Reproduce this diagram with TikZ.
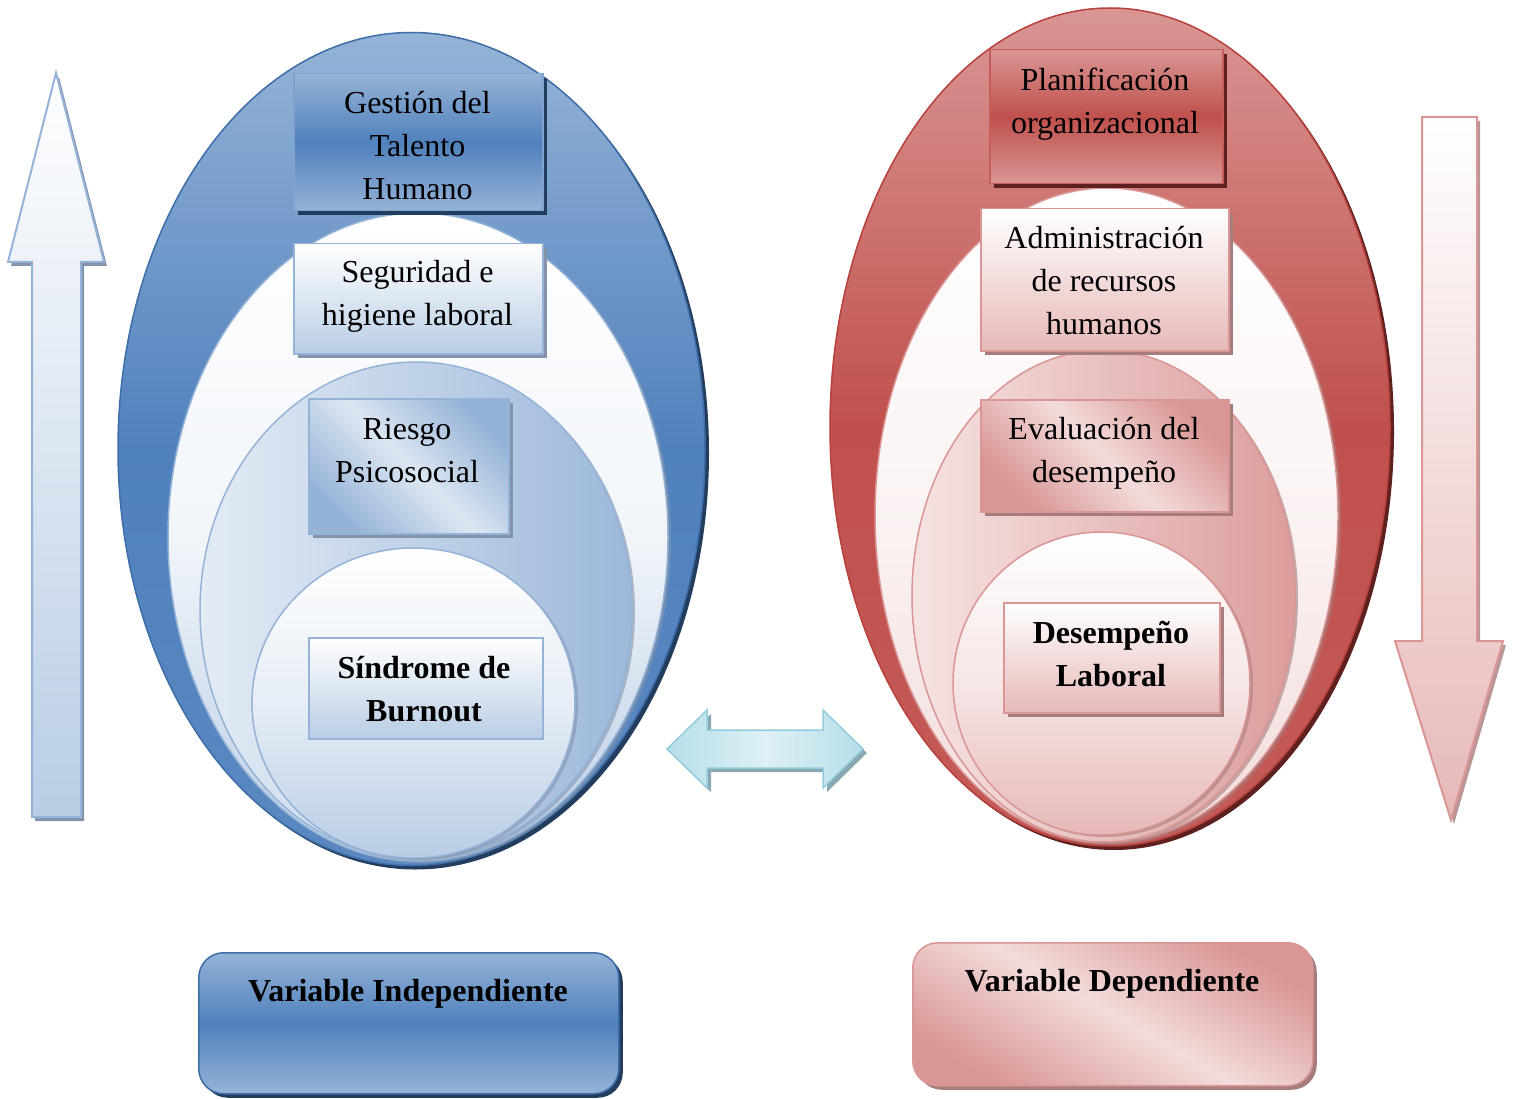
\documentclass[tikz,border=0pt]{standalone}
\usepackage{fontspec}
\setmainfont{Liberation Serif}
\usetikzlibrary{shapes.geometric,shadows}
\definecolor{blueA}{HTML}{4F81BD}
\definecolor{blueB}{HTML}{95B3D7}
\definecolor{blueC}{HTML}{B9CDE5}
\definecolor{blueD}{HTML}{DCE6F2}
\definecolor{blueEdge}{HTML}{3E6DA8}
\definecolor{navy}{HTML}{233D5E}
\definecolor{blueGray}{HTML}{8393AB}
\definecolor{redA}{HTML}{C0504D}
\definecolor{redB}{HTML}{D99694}
\definecolor{redC}{HTML}{E6B9B8}
\definecolor{redD}{HTML}{F2DCDB}
\definecolor{redEdge}{HTML}{B8413E}
\definecolor{maroon}{HTML}{5E2120}
\definecolor{redGray}{HTML}{A67C7C}
\definecolor{cyanA}{HTML}{B7DEE8}
\definecolor{cyanB}{HTML}{DDF0F5}
\definecolor{cyanEdge}{HTML}{93CDDD}
\definecolor{cyanGray}{HTML}{8AA9B2}
\begin{document}
\begin{tikzpicture}[x=1pt,y=-1pt,
  txt/.style={align=center,inner sep=0pt,font=\fontsize{32}{43}\selectfont},
  btxt/.style={align=center,inner sep=0pt,font=\bfseries\fontsize{32}{43}\selectfont},
  ell/.style={ellipse,inner sep=0pt,line width=1.5pt},
  boxshape/.style={rectangle,inner sep=0pt,anchor=north west,line width=1.5pt},
  shad/.style={drop shadow={fill=#1,opacity=1,shadow xshift=4pt,shadow yshift=-4pt}},
  lshad/.style={drop shadow={fill=#1,opacity=0.6,shadow xshift=3pt,shadow yshift=-2pt}},
]
\useasboundingbox (0,0) rectangle (1517,1099);

% ---------- left ellipses ----------
\node[ell,minimum width=587pt,minimum height=833pt,draw=blueEdge,
      top color=blueB,bottom color=blueA!85!blueB,middle color=blueA,shad=navy] (LE1) at (411.5,449) {};
\node[ell,minimum width=500pt,minimum height=648pt,draw=blueB,
      top color=white,bottom color=blueC,middle color=blueD!40!white,lshad=blueGray] (LE2) at (418,537) {};
\node[ell,minimum width=432pt,minimum height=496pt,draw=blueB,
      left color=blueD!80!white,right color=blueB!80!blueC,lshad=blueGray] (LE3) at (416,610) {};
\node[ell,minimum width=323pt,minimum height=310pt,draw=blueB,
      top color=white,bottom color=blueC,middle color=blueD!70!white,lshad=blueGray] (LE4) at (413.5,703) {};

% ---------- right ellipses ----------
\node[ell,minimum width=560pt,minimum height=838pt,draw=redEdge,
      top color=redB,bottom color=redA!85!redB,middle color=redA,shad=maroon] (RE1) at (1110,427) {};
\node[ell,minimum width=463pt,minimum height=655pt,draw=redB,
      top color=white,bottom color=redD,middle color=redD!35!white,lshad=redGray] (RE2) at (1106.5,515.5) {};
\node[ell,minimum width=383pt,minimum height=492pt,draw=redB,
      left color=redD!80!white,right color=redB!80!redC,lshad=redGray] (RE3) at (1103.5,596) {};
\node[ell,minimum width=297pt,minimum height=303pt,draw=redB,
      top color=white,bottom color=redC,middle color=redD!70!white,lshad=redGray] (RE4) at (1101.5,683.5) {};

% ---------- left boxes ----------
\node[boxshape,minimum width=249pt,minimum height=137pt,draw=blueB!70!blueA,
      top color=blueB,bottom color=blueB,middle color=blueA,shad=navy] (gbox) at (293,73) {};
\node[boxshape,minimum width=249pt,minimum height=110pt,draw=blueB,
      top color=white,bottom color=blueC,shad=blueGray] (sbox) at (293,243) {};
\node[boxshape,minimum width=200pt,minimum height=135pt,draw=blueB,
      top color=blueB,bottom color=blueB,middle color=blueD,shading angle=-45,shad=blueGray] (rbox) at (308,398) {};
\node[boxshape,minimum width=234pt,minimum height=101pt,draw=blueB,
      top color=white,bottom color=blueC] (bbox) at (308,637) {};

% ---------- right boxes ----------
\node[boxshape,minimum width=233pt,minimum height=134pt,draw=redA!80!redB,
      top color=redB,bottom color=redB,middle color=redA,shad=maroon] (pbox) at (989,49) {};
\node[boxshape,minimum width=248pt,minimum height=142pt,draw=redB,
      top color=white,bottom color=redC,shad=redGray] (abox) at (980,208) {};
\node[boxshape,minimum width=248pt,minimum height=112pt,draw=redB,
      top color=redB,bottom color=redB,middle color=redD,shading angle=-45,shad=redGray] (ebox) at (980,399) {};
\node[boxshape,minimum width=216pt,minimum height=110pt,draw=redB,
      top color=white,bottom color=redC,shad=redGray] (dbox) at (1003,602) {};

% ---------- bottom boxes ----------
\node[boxshape,rounded corners=25pt,minimum width=420pt,minimum height=141pt,draw=blueEdge,
      top color=blueB,bottom color=blueB,middle color=blueA,shad=navy] (vibox) at (198,952) {};
\node[boxshape,rounded corners=25pt,minimum width=400pt,minimum height=143pt,draw=redB,
      top color=redB,bottom color=redB,middle color=redD,shading angle=-30,shad=redGray] (vdbox) at (912,942) {};

% ---------- arrows ----------
\path[draw=blueB,line width=2pt,top color=white,bottom color=blueC,
      drop shadow={fill=blueGray,opacity=1,shadow xshift=3pt,shadow yshift=-4pt}]
  (56,73) -- (104,262) -- (81,262) -- (81,817) -- (32,817) -- (32,262) -- (8,262) -- cycle;
\path[draw=redB,line width=2pt,top color=white,bottom color=redC,
      drop shadow={fill=redGray,opacity=0.8,shadow xshift=3pt,shadow yshift=-4pt}]
  (1422,117) -- (1477,117) -- (1477,641) -- (1503,641) -- (1451,820) -- (1395,641) -- (1422,641) -- cycle;
\path[draw=cyanEdge,line width=1.5pt,left color=cyanA,right color=cyanA,middle color=cyanB,
      drop shadow={fill=cyanGray,opacity=1,shadow xshift=4pt,shadow yshift=-4pt}]
  (667,749) -- (707,710) -- (707,730) -- (823,730) -- (823,710) -- (863,749)
  -- (823,788) -- (823,768) -- (707,768) -- (707,788) -- cycle;

% ---------- texts ----------
\node[txt] (tges) at (417.5,145.5) {Gestión del\\Talento\\Humano};
\node[txt] (tseg) at (417.5,296) {Seguridad e\\higiene laboral};
\node[txt] (trie) at (407,450.5) {Riesgo\\Psicosocial};
\node[btxt] (tsin) at (424,689) {Síndrome de\\Burnout};
\node[txt] (tpla) at (1105,104.5) {Planificación\\organizacional};
\node[txt] (tadm) at (1104,281) {Administración\\de recursos\\humanos};
\node[txt] (teva) at (1104,453.5) {Evaluación del\\desempeño};
\node[btxt] (tdes) at (1111,654) {Desempeño\\Laboral};
\node[btxt] (tvi) at (408,993.5) {Variable Independiente};
\node[btxt] (tvd) at (1112,984) {Variable Dependiente};
\end{tikzpicture}
\end{document}
